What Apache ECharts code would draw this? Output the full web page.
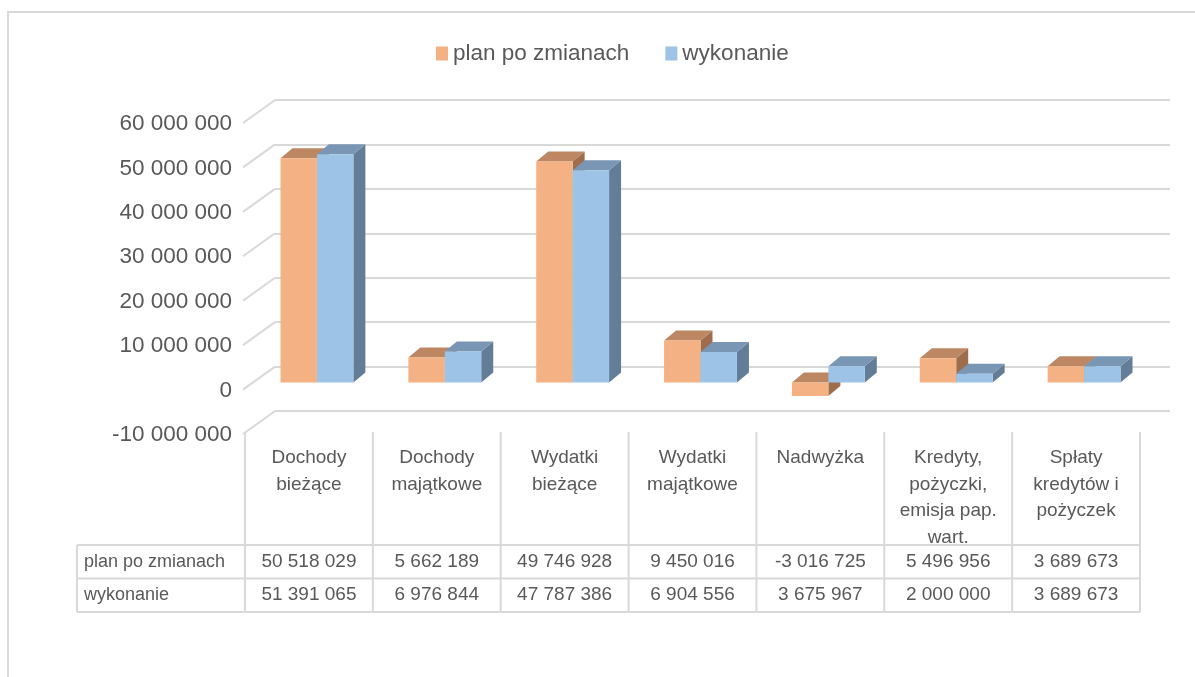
<!DOCTYPE html>
<html>
<head>
<meta charset="utf-8">
<script src="https://cdn.jsdelivr.net/npm/echarts@6/dist/echarts.min.js"></script>
<style>
  html, body { margin: 0; padding: 0; background: #fff; }
  #chart { width: 1195px; height: 677px; }
</style>
</head>
<body>
<div id="chart"></div>
<script>
// kategorie (nagłówki tabeli danych)
const categories = [
    'Dochody\nbieżące',
    'Dochody\nmajątkowe',
    'Wydatki\nbieżące',
    'Wydatki\nmajątkowe',
    'Nadwyżka',
    'Kredyty,\npożyczki,\nemisja pap.\nwart.',
    'Spłaty\nkredytów i\npożyczek'
];
const seriesNames = ['plan po zmianach', 'wykonanie'];
const planValues = [50518029, 5662189, 49746928, 9450016, -3016725, 5496956, 3689673];
const actualValues = [51391065, 6976844, 47787386, 6904556, 3675967, 2000000, 3689673];
const yTicks = [-10000000, 0, 10000000, 20000000, 30000000, 40000000, 50000000, 60000000];

// kolory: przód, góra, bok
const palette = [
    { front: '#F4B183', top: '#BC8762', side: '#9E6D4B' },
    { front: '#9DC3E6', top: '#7A96B5', side: '#637D98' }
];

const TXT = '#595959';
const LINE = '#D9D9D9';
const FONT = "'Liberation Sans', Arial, sans-serif";

// liczby z odstępem tysięcy
function fmt(v) {
    let s = Math.abs(v).toString().replace(/\B(?=(\d{3})+(?!\d))/g, ' ');
    return (v < 0 ? '-' : '') + s;
}

// słupek 3D (custom series)
function barRenderer(k) {
    return function (params, api) {
        let i = api.value(0);
        let v = api.value(1);
        let c = api.coord([i, v]);
        let z = api.coord([i, 0]);
        let band = api.size([1, 0])[0];
        let w = band * 0.285;
        // płaszczyzna frontu słupków przesunięta przed tylną ścianę
        let cx = c[0] - 22;
        let x0 = cx - w + k * w;
        let x1 = x0 + w;
        let yv = c[1] + 16, y0 = z[1] + 16;
        let yTop = Math.min(yv, y0), yBot = Math.max(yv, y0);
        let dx = 12, dy = 10;
        let col = palette[k];
        return {
            type: 'group',
            children: [
                {
                    type: 'polygon',
                    shape: { points: [[x1, yTop], [x1 + dx, yTop - dy], [x1 + dx, yBot - dy], [x1, yBot]] },
                    style: { fill: col.side }
                },
                {
                    type: 'polygon',
                    shape: { points: [[x0, yTop], [x1, yTop], [x1 + dx, yTop - dy], [x0 + dx, yTop - dy]] },
                    style: { fill: col.top }
                },
                {
                    type: 'rect',
                    shape: { x: x0, y: yTop, width: w, height: yBot - yTop },
                    style: { fill: col.front }
                }
            ]
        };
    };
}

// skośne linie lewej ściany + opisy osi
function wallRenderer(params, api) {
    let v = api.value(1);
    let p = api.coord([0, v]);
    let cs = params.coordSys;
    return {
        type: 'group',
        children: [
            {
                type: 'line',
                shape: { x1: cs.x, y1: p[1], x2: cs.x - 32, y2: p[1] + 23 },
                style: { stroke: LINE, lineWidth: 2 }
            },
            {
                type: 'text',
                x: cs.x - 43,
                y: p[1] + 24,
                style: {
                    text: fmt(v), fill: TXT, fontSize: 22.5, fontFamily: FONT,
                    align: 'right', verticalAlign: 'middle'
                }
            }
        ]
    };
}

// tabela danych pod wykresem
function tableRenderer(params, api) {
    let i = api.value(0);
    let c = api.coord([i, yTicks[0]]);
    let band = api.size([1, 0])[0];
    let left = c[0] - band / 2 - 30;
    let right = left + band;
    let mid = left + band / 2;
    let hTop = c[1] + 21;
    let r0 = hTop + 113, r1 = r0 + 33.5, r2 = r1 + 33.5;
    let ls = { stroke: LINE, lineWidth: 2 };
    let ts = { fill: TXT, fontSize: 19, fontFamily: FONT, align: 'center' };
    let ch = [
        { type: 'line', shape: { x1: left, y1: hTop, x2: left, y2: r2 }, style: ls },
        { type: 'line', shape: { x1: left, y1: r0, x2: right, y2: r0 }, style: ls },
        { type: 'line', shape: { x1: left, y1: r1, x2: right, y2: r1 }, style: ls },
        { type: 'line', shape: { x1: left, y1: r2, x2: right, y2: r2 }, style: ls },
        {
            type: 'text', x: mid, y: hTop + 13,
            style: Object.assign({ text: categories[i], verticalAlign: 'top', lineHeight: 26.5 }, ts)
        },
        {
            type: 'text', x: mid, y: (r0 + r1) / 2,
            style: Object.assign({ text: fmt(planValues[i]), verticalAlign: 'middle' }, ts)
        },
        {
            type: 'text', x: mid, y: (r1 + r2) / 2,
            style: Object.assign({ text: fmt(actualValues[i]), verticalAlign: 'middle' }, ts)
        }
    ];
    if (i === categories.length - 1) {
        ch.push({ type: 'line', shape: { x1: right, y1: hTop, x2: right, y2: r2 }, style: ls });
    }
    if (i === 0) {
        let lx = 77;
        ch.push(
            { type: 'line', shape: { x1: lx, y1: r0, x2: left, y2: r0 }, style: ls },
            { type: 'line', shape: { x1: lx, y1: r1, x2: left, y2: r1 }, style: ls },
            { type: 'line', shape: { x1: lx, y1: r2, x2: left, y2: r2 }, style: ls },
            { type: 'line', shape: { x1: lx, y1: r0, x2: lx, y2: r2 }, style: ls },
            {
                type: 'text', x: lx + 7, y: (r0 + r1) / 2,
                style: { text: seriesNames[0], fill: TXT, fontSize: 18, fontFamily: FONT, verticalAlign: 'middle' }
            },
            {
                type: 'text', x: lx + 7, y: (r1 + r2) / 2,
                style: { text: seriesNames[1], fill: TXT, fontSize: 18, fontFamily: FONT, verticalAlign: 'middle' }
            }
        );
    }
    return { type: 'group', children: ch };
}

let chart = echarts.init(document.getElementById('chart'));

let option = {
    animation: false,
    backgroundColor: '#fff',
    graphic: [
        {
            type: 'rect',
            shape: { x: 8, y: 12, width: 1200, height: 700 },
            style: { fill: 'none', stroke: LINE, lineWidth: 2 },
            silent: true
        }
    ],
    legend: {
        data: seriesNames,
        top: 37,
        left: 431,
        icon: 'rect',
        itemWidth: 12,
        itemHeight: 14,
        itemGap: 36,
        textStyle: { fontSize: 22.5, color: TXT, fontFamily: FONT }
    },
    grid: {
        left: 275,
        top: 100,
        width: 895,
        height: 311
    },
    xAxis: {
        type: 'category',
        data: categories,
        boundaryGap: true,
        axisLine: { show: false },
        axisTick: { show: false },
        axisLabel: { show: false },
        splitLine: { show: false }
    },
    yAxis: {
        type: 'value',
        min: yTicks[0],
        max: yTicks[yTicks.length - 1],
        interval: yTicks[1] - yTicks[0],
        axisLine: { show: false },
        axisTick: { show: false },
        axisLabel: { show: false },
        splitLine: { lineStyle: { color: LINE, width: 2 } }
    },
    series: [
        {
            type: 'custom',
            silent: true,
            data: yTicks.map(function (v) { return [0, v]; }),
            renderItem: wallRenderer
        },
        {
            name: seriesNames[0],
            type: 'custom',
            itemStyle: { color: palette[0].front },
            data: planValues.map(function (v, i) { return [i, v]; }),
            renderItem: barRenderer(0)
        },
        {
            name: seriesNames[1],
            type: 'custom',
            itemStyle: { color: palette[1].front },
            data: actualValues.map(function (v, i) { return [i, v]; }),
            renderItem: barRenderer(1)
        },
        {
            type: 'custom',
            silent: true,
            data: categories.map(function (c, i) { return [i, 0]; }),
            renderItem: tableRenderer
        }
    ]
};

chart.setOption(option);
</script>
</body>
</html>
